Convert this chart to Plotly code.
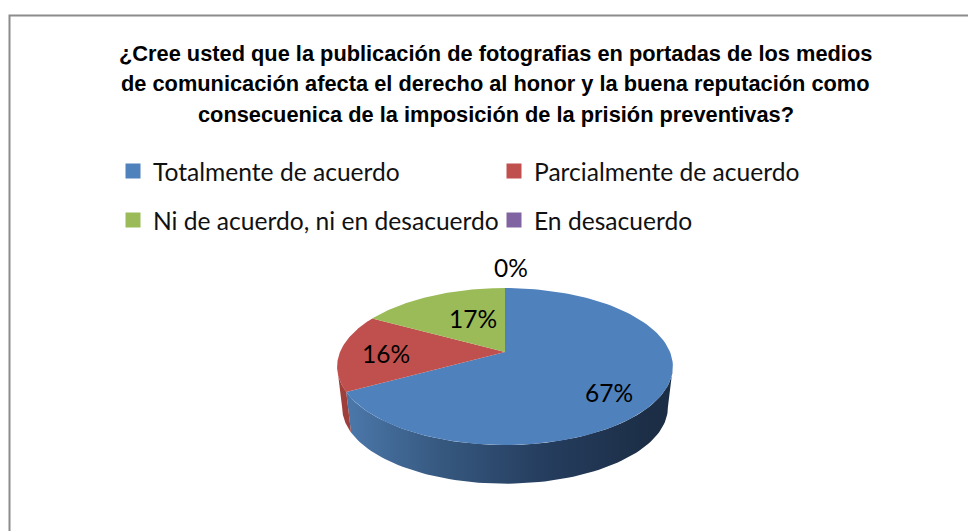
import numpy as np
import plotly.graph_objects as go

# ---- data ----
categories = ["Totalmente de acuerdo", "Parcialmente de acuerdo",
              "Ni de acuerdo, ni en desacuerdo", "En desacuerdo"]
values = [67, 16, 17, 0]
colors = ["#4F81BD", "#C0504D", "#9BBB59", "#8064A2"]
title_lines = [
    "¿Cree usted que la publicación de fotografias en portadas de los medios",
    "de comunicación afecta el derecho al honor y la buena reputación como",
    "consecuenica de la imposición de la prisión preventivas?",
]

# ---- tilted-pie projection (unit circle -> axis units) ----
W, H = 970, 531
CX, CY, AX, AY = 505.0, 352.0, 165.0, 75.8   # apex position and scale on the page, in px
K = 0.185           # perspective
DEPTH = 41.5 / AY   # wall height
BOTTOM_SCALE = 0.97


def project(theta, r=1.0, bottom=False):
    X, Y = r * np.sin(theta), r * np.cos(theta)
    d = 1 + K * Y
    x, y = X / d, Y / d
    if bottom:
        x, y = x * BOTTOM_SCALE, y * BOTTOM_SCALE - DEPTH
    return x, y


fractions = np.cumsum([0] + values) / sum(values)
angle = 2 * np.pi * fractions
tangent = np.arccos(-K)

fig = go.Figure()


def wall(t0, t1, color=None, gradient=None):
    t = np.linspace(t0, t1, 80)
    x0, y0 = project(t)
    x1, y1 = project(t[::-1], bottom=True)
    fig.add_trace(go.Scatter(
        x=np.r_[x0, x1], y=np.r_[y0, y1], mode="lines", line=dict(width=0),
        fill="toself", fillcolor=color, fillgradient=gradient,
        hoverinfo="skip", showlegend=False))


wall(tangent, angle[1], gradient=dict(
    type="horizontal", start=(650 - CX) / AX, stop=(352 - CX) / AX,
    colorscale=[[0, "#1C2E46"], [0.35, "#253D5E"], [0.7, "#36587F"], [1, "#4A76A8"]]))
wall(angle[1], 2 * np.pi - tangent, color="#9E3F3C")

for i, name in enumerate(categories):
    t = np.linspace(angle[i], angle[i + 1], 120)
    x, y = project(t)
    fig.add_trace(go.Scatter(
        x=np.r_[0, x, 0], y=np.r_[0, y, 0], mode="lines", line=dict(width=0),
        fill="toself", fillcolor=colors[i], name=name, hoverinfo="name",
        showlegend=False))

# legend entries, one legend per row
for i, name in enumerate(categories):
    fig.add_trace(go.Scatter(
        x=[None], y=[None], mode="markers", name=name,
        marker=dict(symbol="square", size=15, color=colors[i]),
        legend="legend" if i < 2 else "legend2"))

# data labels: mid-angle of each slice, with a radial factor and a pixel nudge
label_place = [(0.70, -2, 12), (0.70, -4, 1), (0.70, 21, 8), (1.0, 6, -21)]
annotations = []
for i, v in enumerate(values):
    r, dx, dy = label_place[i]
    x, y = project((angle[i] + angle[i + 1]) / 2, r)
    annotations.append(dict(x=x, y=y, text=f"{v}%", showarrow=False, xshift=dx, yshift=-dy,
                            xanchor="center", yanchor="middle",
                            font=dict(family="Lato", size=24.5, color="#000000")))
for i, line in enumerate(title_lines):
    annotations.append(dict(xref="paper", yref="paper", x=496 / W, y=1 - (54 + 30 * i) / H,
                            xanchor="center", yanchor="middle",
                            text=f"<b>{line}</b>", showarrow=False,
                            font=dict(family="Liberation Sans", size=21.8, color="#000000")))

legend_style = dict(orientation="h", xanchor="left", yanchor="middle", x=113 / W,
                    bgcolor="rgba(0,0,0,0)", entrywidth=336, entrywidthmode="pixels",
                    itemclick=False, itemdoubleclick=False,
                    font=dict(family="Lato", size=24.6, color="#111111"))

fig.update_layout(
    width=W, height=H, autosize=False,
    margin=dict(l=0, r=0, t=0, b=0),
    paper_bgcolor="#FFFFFF", plot_bgcolor="#FFFFFF",
    xaxis=dict(range=[-CX / AX, (W - CX) / AX], visible=False, fixedrange=True),
    yaxis=dict(range=[(CY - H) / AY, CY / AY], visible=False, fixedrange=True),
    legend=dict(legend_style, y=1 - 171 / H),
    legend2=dict(legend_style, y=1 - 220 / H),
    annotations=annotations,
    shapes=[dict(type="path", xref="paper", yref="paper",
                 path=f"M {9.5 / W} 0 L {9.5 / W} {1 - 15.5 / H} L {968 / W} {1 - 15.5 / H}",
                 line=dict(color="#8C8C8C", width=2))],
)

fig.write_html("out.html", config={"displayModeBar": False},
               post_script="document.body.style.margin='0';document.documentElement.style.overflow='hidden';")
